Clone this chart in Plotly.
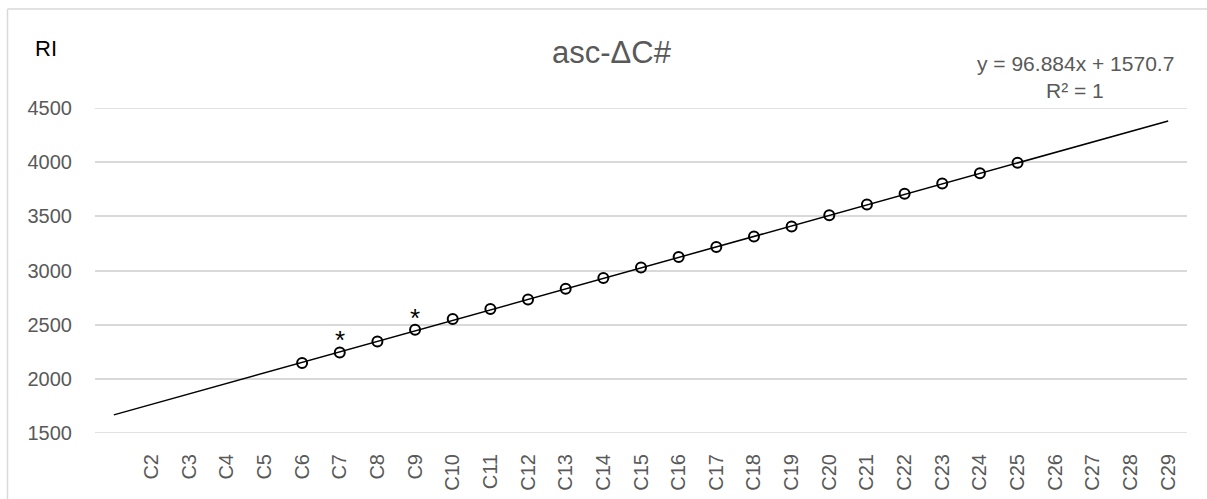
import plotly.graph_objects as go

# ---- data ----
categories = [""] + [f"C{i}" for i in range(2, 30)]
point_categories = [f"C{i}" for i in range(6, 26)]
ri_values = [2146, 2244, 2345, 2453, 2552, 2644, 2733, 2831, 2930, 3028,
             3124, 3216, 3314, 3406, 3511, 3609, 3708, 3803, 3898, 3994]
starred = ["C7", "C9"]
trend_slope = 96.884
trend_intercept = 1570.7
trend_r2_text = "R² = 1"
y_ticks = [1500, 2000, 2500, 3000, 3500, 4000, 4500]

FONT = "Liberation Sans"
GRAY = "#595959"
GRID = "#d9d9d9"

pos = {c: i + 1 for i, c in enumerate(categories) if c}
pos_x = [pos[c] for c in point_categories]

trend_x = [1, len(categories)]
trend_y = [trend_slope * x + trend_intercept for x in trend_x]

W, H = 1207, 499
L, R, T, B = 95, 20, 108, 66
pw, ph = W - L - R, H - T - B


def px(xp):
    return (xp - L) / pw


def py(yp):
    return (H - B - yp) / ph


fig = go.Figure()
fig.add_trace(go.Scatter(x=trend_x, y=trend_y, mode="lines",
                         line=dict(color="black", width=1.5),
                         showlegend=False, hoverinfo="skip"))
fig.add_trace(go.Scatter(x=pos_x, y=ri_values, mode="markers",
                         marker=dict(symbol="circle-open", size=10,
                                     color="black", line=dict(width=2, color="black")),
                         showlegend=False))

for c in starred:
    v = ri_values[point_categories.index(c)]
    fig.add_annotation(x=pos[c], y=v, text="*", showarrow=False,
                       xref="x", yref="y", yanchor="middle", yshift=12,
                       font=dict(family=FONT, size=26, color="black"))

fig.add_annotation(x=px(612), y=py(53), xref="paper", yref="paper",
                   text="asc-ΔC#", showarrow=False, xanchor="center", yanchor="middle",
                   font=dict(family=FONT, size=31, color=GRAY))
fig.add_annotation(x=px(46), y=py(48), xref="paper", yref="paper",
                   text="RI", showarrow=False, xanchor="center", yanchor="middle",
                   font=dict(family=FONT, size=22, color="black"))
fig.add_annotation(x=px(1075), y=py(63), xref="paper", yref="paper",
                   text=f"y = {trend_slope}x + {trend_intercept}", showarrow=False,
                   xanchor="center", yanchor="middle",
                   font=dict(family=FONT, size=21, color=GRAY))
fig.add_annotation(x=px(1075), y=py(90), xref="paper", yref="paper",
                   text=trend_r2_text, showarrow=False,
                   xanchor="center", yanchor="middle",
                   font=dict(family=FONT, size=21, color=GRAY))

# chart border (left and top visible)
fig.add_shape(type="line", xref="paper", yref="paper",
              x0=px(7.5), x1=px(7.5), y0=py(9), y1=py(520),
              line=dict(color=GRID, width=1.5))
fig.add_shape(type="line", xref="paper", yref="paper",
              x0=px(7.5), x1=px(1230), y0=py(9), y1=py(9),
              line=dict(color=GRID, width=1.5))

# gridlines at the range ends (plotly omits them at the edges)
for yv in (y_ticks[0], y_ticks[-1]):
    fig.add_shape(type="line", xref="x domain", yref="y",
                  x0=0, x1=1, y0=yv, y1=yv, layer="below",
                  line=dict(color=GRID, width=1.5))

fig.update_layout(
    width=W, height=H,
    margin=dict(l=L, r=R, t=T, b=B, autoexpand=False),
    paper_bgcolor="white", plot_bgcolor="white",
    font=dict(family=FONT, size=20, color=GRAY),
    xaxis=dict(range=[0.5, len(categories) + 0.5],
               tickmode="array",
               tickvals=[pos[c] for c in categories if c],
               ticktext=[c for c in categories if c],
               tickangle=-90, showgrid=False, showline=False, zeroline=False,
               automargin=False,
               ticks="outside", ticklen=12, tickcolor="rgba(0,0,0,0)",
               tickfont=dict(family=FONT, size=20, color=GRAY)),
    yaxis=dict(range=[y_ticks[0], y_ticks[-1]], tickmode="array", tickvals=y_ticks,
               showgrid=True, gridcolor=GRID, gridwidth=1.5,
               zeroline=False, showline=False, automargin=False,
               ticks="outside", ticklen=18, tickcolor="rgba(0,0,0,0)",
               tickfont=dict(family=FONT, size=20, color=GRAY)),
)

fig.write_html("out.html", config={"displayModeBar": False},
               post_script="document.body.style.margin='0px';")
